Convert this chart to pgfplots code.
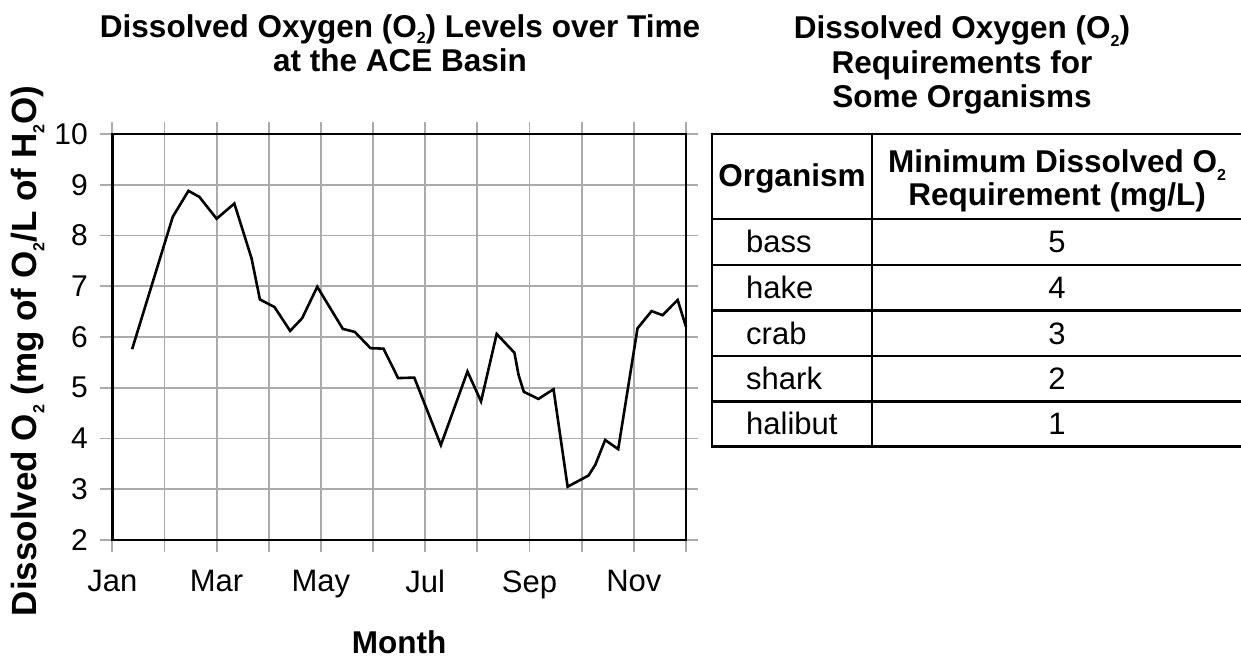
\documentclass[border=0pt]{standalone}
\usepackage{fontspec}
\setmainfont{Liberation Sans}
\usepackage{pgfplots}
\pgfplotsset{compat=1.18}
\newcommand{\sub}[1]{\raisebox{-0.24em}{\fontsize{16}{16}\selectfont #1}}
\newcommand{\tsub}[1]{\raisebox{-0.17em}{\fontsize{16}{16}\selectfont #1}}
\newcommand{\bigfont}{\fontsize{31.5}{34}\selectfont}
\newcommand{\regfont}{\fontsize{31}{34}\selectfont}
\begin{document}
\begin{tikzpicture}[x=1pt,y=1pt]
\useasboundingbox (0,0) rectangle (1241,658);
\begin{axis}[
  at={(112.3pt,118pt)}, anchor=south west,
  scale only axis, width=573.7pt, height=406pt,
  xmin=0, xmax=11, ymin=2, ymax=10,
  xtick={0,1,2,3,4,5,6,7,8,9,10,11},
  xticklabels={Jan,,Mar,,May,,\raisebox{-6pt}{Jul},,\raisebox{-6pt}{Sep},,\raisebox{-6pt}{Nov},},
  ytick={2,3,4,5,6,7,8,9,10},
  grid=major,
  major grid style={draw=black!33, line width=1.9pt},
  axis line style={line width=2.4pt},
  tick align=outside, major tick length=12pt,
  tick style={draw=black!33, line width=1.9pt},
  /pgf/number format/assume math mode=true,
  xticklabel style={font=\regfont, yshift=-15pt},
  yticklabel style={font=\fontsize{30}{30}\selectfont, xshift=-9pt},
  clip=false,
]
\addplot[black, line width=2.6pt, line join=miter] coordinates {
(0.38,5.76) (1.16,8.37) (1.46,8.88) (1.67,8.76) (2.00,8.33) (2.34,8.63)
(2.67,7.55) (2.83,6.74) (3.11,6.59) (3.41,6.12) (3.64,6.37) (3.93,6.99)
(4.42,6.16) (4.65,6.10) (4.95,5.78) (5.20,5.77) (5.48,5.19) (5.79,5.20)
(6.30,3.87) (6.81,5.32) (7.07,4.73) (7.37,6.06) (7.71,5.69) (7.79,5.25)
(7.89,4.92) (8.17,4.78) (8.46,4.97) (8.73,3.05) (9.13,3.27) (9.26,3.48)
(9.45,3.97) (9.70,3.79) (10.07,6.17) (10.34,6.51) (10.55,6.43) (10.84,6.73)
(11.00,6.20)
};
\end{axis}
% left titles
\node[anchor=base, font=\bigfont\bfseries, inner sep=0] at (400,620) {Dissolved Oxygen (O\tsub{2}) Levels over Time};
\node[anchor=base, font=\bigfont\bfseries, inner sep=0] at (400,586) {at the ACE Basin};
\node[anchor=base, rotate=90, font=\fontsize{35}{36}\selectfont\bfseries, inner sep=0] at (36,307) {Dissolved O\sub{2} (mg of O\sub{2}/L of H\sub{2}O)};
\node[anchor=base, font=\bigfont\bfseries, inner sep=0] at (399,5) {Month};
% right titles
\node[anchor=base, font=\bigfont\bfseries, inner sep=0] at (962,619) {Dissolved Oxygen (O\sub{2})};
\node[anchor=base, font=\bigfont\bfseries, inner sep=0] at (962,584) {Requirements for};
\node[anchor=base, font=\bigfont\bfseries, inner sep=0] at (962,550) {Some Organisms};
% table
\begin{scope}[line width=2.2pt]
\foreach \yy in {524,439,393,347.5,302,256.5,211.5} {\draw (711,\yy) -- (1250,\yy);}
\draw (712,525) -- (712,210.5);
\draw (872,525) -- (872,210.5);
\draw (1244,525) -- (1244,210.5);
\end{scope}
\node[anchor=base, font=\bigfont\bfseries, inner sep=0] at (792,471) {Organism};
\node[anchor=base, font=\bigfont\bfseries, inner sep=0] at (1057,485) {Minimum Dissolved O\sub{2}};
\node[anchor=base, font=\bigfont\bfseries, inner sep=0] at (1057,452) {Requirement (mg/L)};
\foreach \nm/\vv/\yc in {bass/5/416, hake/4/370.25, crab/3/324.75, shark/2/279.25, halibut/1/234} {
  \node[anchor=base west, font=\regfont, inner sep=0] at (746,\yc-11) {\nm};
  \node[anchor=base, font=\regfont, inner sep=0] at (1057,\yc-11) {\vv};
}
\end{tikzpicture}
\end{document}
